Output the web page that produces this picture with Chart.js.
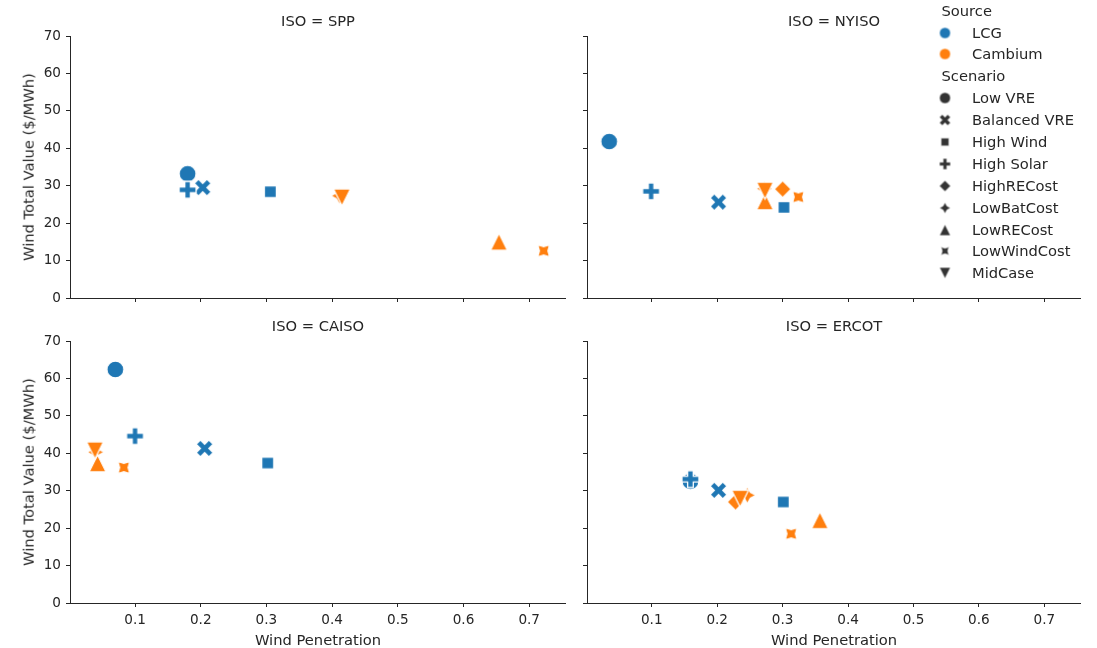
<!DOCTYPE html>
<html><head><meta charset="utf-8">
<script src="https://cdn.jsdelivr.net/npm/chart.js@4.4.1/dist/chart.umd.min.js"></script>
<style>
html,body{margin:0;padding:0;background:#fff;}
body{width:1097px;height:648px;position:relative;overflow:hidden;font-family:'DejaVu Sans',sans-serif;color:#262626;}
canvas.panel{position:absolute;}
.c{position:absolute;transform:translate(-50%,-50%);white-space:nowrap;line-height:1;}
.ttl{font-size:14.7px;}
.lab{font-size:14.7px;}
.ylab{position:absolute;white-space:nowrap;line-height:1;font-size:14.7px;transform:translate(-50%,-50%) rotate(-90deg);}
.legrow{position:absolute;white-space:nowrap;line-height:1;font-size:14.7px;transform:translateY(-50%);}
.legmk{position:absolute;transform:translate(-50%,-50%);}
</style></head><body>
<div id="root"></div>
<script>
// ---------------- data ----------------
const isoNames = ['SPP', 'NYISO', 'CAISO', 'ERCOT'];
const sources = ['LCG', 'Cambium'];
const sourceColors = ['#1f77b4', '#ff7f0e'];
const scenarios = ['Low VRE', 'Balanced VRE', 'High Wind', 'High Solar', 'HighRECost', 'LowBatCost', 'LowRECost', 'LowWindCost', 'MidCase'];
const lcgScenarios = ['Low VRE', 'Balanced VRE', 'High Wind', 'High Solar'];
const cambiumScenarios = ['HighRECost', 'LowBatCost', 'LowRECost', 'LowWindCost', 'MidCase'];
// rows: SPP, NYISO, CAISO, ERCOT ; columns follow the scenario lists above
const lcgPenetration = [
  [0.180, 0.203, 0.306, 0.180],
  [0.035, 0.202, 0.302, 0.099],
  [0.070, 0.206, 0.302, 0.100],
  [0.159, 0.202, 0.301, 0.159]
];
const lcgValue = [
  [33.2, 29.5, 28.4, 28.9],
  [41.8, 25.6, 24.2, 28.5],
  [62.4, 41.3, 37.4, 44.6],
  [32.5, 30.1, 27.0, 33.1]
];
const cambiumPenetration = [
  [null, 0.411, 0.654, 0.722, 0.415],
  [0.300, 0.272, 0.273, 0.324, 0.273],
  [null, 0.040, 0.043, 0.083, 0.039],
  [0.228, 0.246, 0.357, 0.313, 0.235]
];
const cambiumValue = [
  [null, 27.3, 15.0, 12.6, 26.9],
  [29.1, 29.2, 25.8, 27.0, 28.7],
  [null, 40.3, 37.3, 36.2, 40.8],
  [27.0, 28.8, 22.1, 18.5, 27.9]
];
const xTicks = [0.1, 0.2, 0.3, 0.4, 0.5, 0.6, 0.7];
const yTicks = [0, 10, 20, 30, 40, 50, 60, 70];
const titleText = isoNames.map(n => 'ISO = ' + n);
const xLabel = 'Wind Penetration';
const yLabel = 'Wind Total Value ($/MWh)';

// ---------------- markers ----------------
const scenarioShapes = ['circle', 'x', 'square', 'plus', 'diamond', 'star', 'triUp', 'star45', 'triDown'];
function makeMarker(shape, color, S, lw) {
  const pad = Math.ceil(lw) + 2;
  const dim = Math.ceil(S + 2 * pad);
  const cv = document.createElement('canvas');
  cv.width = dim; cv.height = dim;
  const ctx = cv.getContext('2d');
  ctx.translate(dim / 2, dim / 2);
  const r = S / 2;
  ctx.beginPath();
  const poly = (pts, k) => { pts.forEach((p, i) => { const x = p[0] * k, y = p[1] * k; if (i === 0) ctx.moveTo(x, y); else ctx.lineTo(x, y); }); ctx.closePath(); };
  if (shape === 'circle') ctx.arc(0, 0, r, 0, Math.PI * 2);
  else if (shape === 'square') { const h = r * Math.SQRT1_2; ctx.rect(-h, -h, 2 * h, 2 * h); }
  else if (shape === 'diamond') poly([[0, -1], [1, 0], [0, 1], [-1, 0]], r);
  else if (shape === 'plus') poly([[-1, -3], [1, -3], [1, -1], [3, -1], [3, 1], [1, 1], [1, 3], [-1, 3], [-1, 1], [-3, 1], [-3, -1], [-1, -1]], S / 6);
  else if (shape === 'x') poly([[-1, -2], [0, -1], [1, -2], [2, -1], [1, 0], [2, 1], [1, 2], [0, 1], [-1, 2], [-2, 1], [-1, 0], [-2, -1]], S / 4);
  else if (shape === 'triUp') poly([[0, -1], [-1, 1], [1, 1]], r);
  else if (shape === 'triDown') poly([[0, 1], [-1, -1], [1, -1]], r);
  else if (shape === 'star' || shape === 'star45') {
    const off = shape === 'star' ? -Math.PI / 2 : -Math.PI / 4;
    const pts = [];
    for (let i = 0; i < 8; i++) { const a = off + i * Math.PI / 4; const rr = i % 2 === 0 ? 1 : 0.5; pts.push([Math.cos(a) * rr, Math.sin(a) * rr]); }
    poly(pts, r);
  }
  ctx.fillStyle = color;
  ctx.fill();
  if (lw > 0) { ctx.lineWidth = lw; ctx.strokeStyle = '#ffffff'; ctx.lineJoin = 'miter'; ctx.stroke(); }
  return cv;
}
const markerSize = 17, markerEdge = 1.3;

// ---------------- layout ----------------
const root = document.getElementById('root');
const padTop = 20, plotH = 262;
const panels = [
  { left: 0, top: 36 - padTop, width: 566, yW: 70, xH: 20, showX: false, showY: true },
  { left: 577, top: 36 - padTop, width: 504, yW: 10, xH: 20, showX: false, showY: false },
  { left: 0, top: 341 - padTop, width: 566, yW: 70, xH: 40, showX: true, showY: true },
  { left: 577, top: 341 - padTop, width: 504, yW: 10, xH: 40, showX: true, showY: false }
];
const tickFont = { family: 'DejaVu Sans', size: 13.6 };
const ink = '#262626';

panels.forEach((p, i) => {
  const cv = document.createElement('canvas');
  cv.className = 'panel';
  const h = padTop + plotH + p.xH;
  cv.width = p.width; cv.height = h;
  cv.style.left = p.left + 'px'; cv.style.top = p.top + 'px';
  cv.style.width = p.width + 'px'; cv.style.height = h + 'px';
  root.appendChild(cv);

  const datasets = [];
  const add = (label, x, y, shape, color) => {
    if (x === null || y === null) return;
    datasets.push({ label, data: [{ x, y }], pointStyle: makeMarker(shape, color, markerSize, markerEdge), pointRadius: 8, clip: false, order: -datasets.length });
  };
  lcgScenarios.forEach((s, j) => add('LCG ' + s, lcgPenetration[i][j], lcgValue[i][j], scenarioShapes[scenarios.indexOf(s)], sourceColors[0]));
  cambiumScenarios.forEach((s, j) => add('Cambium ' + s, cambiumPenetration[i][j], cambiumValue[i][j], scenarioShapes[scenarios.indexOf(s)], sourceColors[1]));

  new Chart(cv, {
    type: 'scatter',
    data: { datasets },
    options: {
      responsive: false, animation: false, devicePixelRatio: 1,
      layout: { autoPadding: false, padding: { top: padTop, left: 0, right: 0, bottom: 0 } },
      plugins: { legend: { display: false }, tooltip: { enabled: false } },
      scales: {
        x: {
          type: 'linear', min: 0.001, max: 0.756,
          afterBuildTicks: s => { s.ticks = xTicks.map(v => ({ value: v })); },
          afterFit: s => { s.height = p.xH; },
          grid: { display: true, drawOnChartArea: false, drawTicks: true, tickLength: 4, color: ink, lineWidth: 1 },
          border: { display: true, color: ink, width: 1 },
          ticks: { display: p.showX, font: tickFont, color: ink, padding: 5, maxRotation: 0, autoSkip: false, callback: v => v.toFixed(1) }
        },
        y: {
          type: 'linear', min: 0, max: 70,
          afterBuildTicks: s => { s.ticks = yTicks.map(v => ({ value: v })); },
          afterFit: s => { s.width = p.yW; },
          grid: { display: true, drawOnChartArea: false, drawTicks: true, tickLength: 4, color: ink, lineWidth: 1 },
          border: { display: true, color: ink, width: 1 },
          ticks: { display: p.showY, font: tickFont, color: ink, padding: 5, callback: v => String(v) }
        }
      }
    }
  });

  const plotLeft = p.left + p.yW, plotRight = p.left + p.width;
  const cx = (plotLeft + plotRight) / 2;
  const t = document.createElement('div');
  t.className = 'c ttl';
  t.textContent = titleText[i];
  t.style.left = cx + 'px';
  t.style.top = (p.top + padTop - 15.5) + 'px';
  root.appendChild(t);
  if (p.showX) {
    const xl = document.createElement('div');
    xl.className = 'c lab';
    xl.textContent = xLabel;
    xl.style.left = cx + 'px';
    xl.style.top = '640px';
    root.appendChild(xl);
  }
  if (p.showY) {
    const yl = document.createElement('div');
    yl.className = 'ylab';
    yl.textContent = yLabel;
    yl.style.left = '29px';
    yl.style.top = (p.top + padTop + plotH / 2) + 'px';
    root.appendChild(yl);
  }
});

// ---------------- legend ----------------
const legendRows = [];
legendRows.push({ title: 'Source' });
sources.forEach((s, k) => legendRows.push({ text: s, shape: 'circle', color: sourceColors[k] }));
legendRows.push({ title: 'Scenario' });
scenarios.forEach((s, k) => legendRows.push({ text: s, shape: scenarioShapes[k], color: '#333333' }));
const legTop = 10.7, legStep = 21.88, legMarkX = 944.5, legTextX = 972, legTitleX = 941.5;
legendRows.forEach((r, k) => {
  const y = legTop + k * legStep;
  const d = document.createElement('div');
  d.className = 'legrow';
  d.style.top = y + 'px';
  if (r.title) { d.textContent = r.title; d.style.left = legTitleX + 'px'; }
  else {
    d.textContent = r.text; d.style.left = legTextX + 'px';
    const m = makeMarker(r.shape, r.color, 11, 0.6);
    m.className = 'legmk';
    m.style.left = legMarkX + 'px'; m.style.top = y + 'px';
    root.appendChild(m);
  }
  root.appendChild(d);
});
</script>
</body></html>
